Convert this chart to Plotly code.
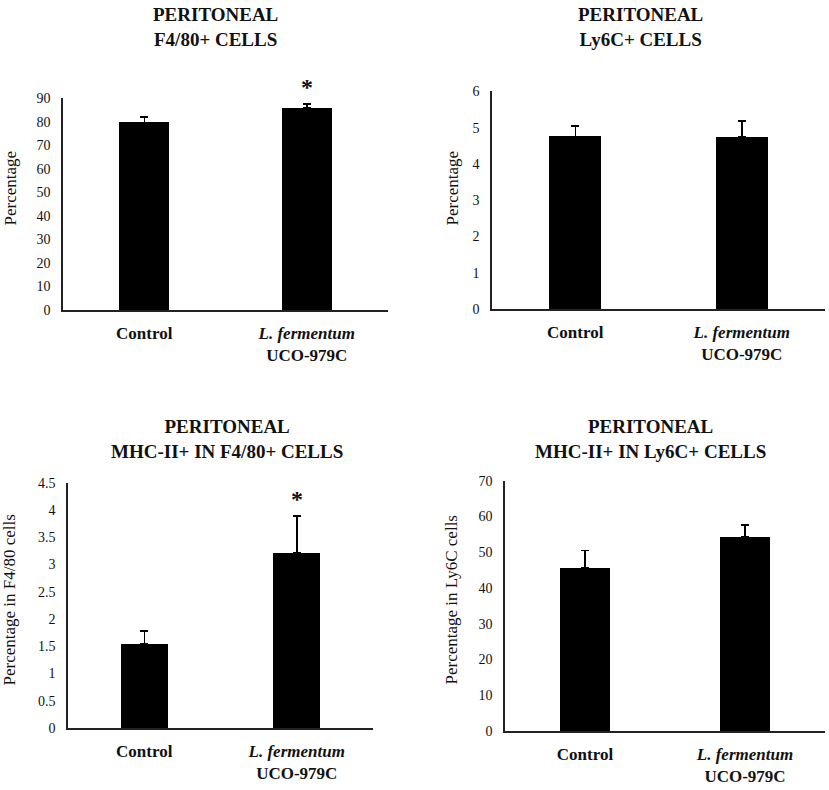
import plotly.graph_objects as go

# groups on the x axis
groups = ["Control", "L. fermentum UCO-979C"]
group_labels = ["<b>Control</b>", "<b><i>L. fermentum</i><br>UCO-979C</b>"]

# panel data (mean and upper error)
f480_mean = [79.6, 85.8]
f480_err = [2.5, 1.7]

ly6c_mean = [4.76, 4.74]
ly6c_err = [0.29, 0.45]

mhc_f480_mean = [1.55, 3.22]
mhc_f480_err = [0.23, 0.67]

mhc_ly6c_mean = [45.6, 54.4]
mhc_ly6c_err = [4.9, 3.2]

titles = ["<b>PERITONEAL<br>F4/80+ CELLS</b>",
          "<b>PERITONEAL<br>Ly6C+ CELLS</b>",
          "<b>PERITONEAL<br>MHC-II+ IN F4/80+ CELLS</b>",
          "<b>PERITONEAL<br>MHC-II+ IN Ly6C+ CELLS</b>"]
ytitles = ["Percentage", "Percentage", "Percentage in F4/80 cells", "Percentage in Ly6C cells"]
ymax = [90, 6, 4.5, 70]
ydtick = [10, 1, 0.5, 10]
significant = [[False, True], [False, False], [False, True], [False, False]]

W, H = 829, 790
FONT = "Times New Roman, Liberation Serif, serif"
INK = "#111111"

# plot areas in pixels: left, right, top, bottom
boxes = [(63, 388, 93, 309), (492, 825, 86, 308), (68, 373, 485, 735), (505, 825, 483, 738)]
title_pos = [(215, 20), (640, 20), (227, 440), (650, 440)]
ytitle_pos = [(10, 185), (452, 185), (10, 605), (452, 605)]

means = [f480_mean, ly6c_mean, mhc_f480_mean, mhc_ly6c_mean]
errs = [f480_err, ly6c_err, mhc_f480_err, mhc_ly6c_err]

fig = go.Figure()
annotations = []

for i in range(4):
    n = i + 1
    xa = "x" if n == 1 else "x%d" % n
    ya = "y" if n == 1 else "y%d" % n
    fig.add_trace(go.Bar(
        x=groups, y=means[i], xaxis=xa, yaxis=ya, width=0.31,
        marker=dict(color="black", line=dict(width=0)),
        error_y=dict(type="data", array=errs[i], arrayminus=[0, 0], symmetric=False,
                     color="black", thickness=1.5, width=4),
        showlegend=False, hoverinfo="skip"))

    l, r, t, b = boxes[i]
    xkey = "xaxis" if n == 1 else "xaxis%d" % n
    ykey = "yaxis" if n == 1 else "yaxis%d" % n
    fig.update_layout({
        xkey: dict(domain=[l / W, r / W], anchor=ya, type="category",
                   range=[-0.5, 1.5], tickvals=groups, ticktext=group_labels,
                   showline=True, linecolor="#222", linewidth=1.5, ticks="",
                   showgrid=False, ticklabelstandoff=7,
                   tickfont=dict(family=FONT, size=17, color=INK)),
        ykey: dict(domain=[1 - b / H, 1 - t / H], anchor=xa, range=[0, ymax[i]],
                   dtick=ydtick[i], showline=True, linecolor="#222", linewidth=1.5,
                   ticks="", showgrid=False, zeroline=False, ticklabelstandoff=8,
                   tickfont=dict(family=FONT, size=14, color=INK)),
    })

    tx, ty = title_pos[i]
    annotations.append(dict(text=titles[i], x=tx / W, y=1 - ty / H, xref="paper", yref="paper",
                            showarrow=False, xanchor="center", yanchor="middle",
                            font=dict(family=FONT, size=19, color=INK)))
    yx, yy = ytitle_pos[i]
    annotations.append(dict(text=ytitles[i], x=yx / W, y=1 - yy / H, xref="paper", yref="paper",
                            showarrow=False, textangle=-90, xanchor="center", yanchor="middle",
                            font=dict(family=FONT, size=17, color=INK)))
    for g, m, e, s in zip(groups, means[i], errs[i], significant[i]):
        if s:
            annotations.append(dict(text="<b>*</b>", x=g, y=m + e, xref=xa, yref=ya,
                                    showarrow=False, yanchor="middle", yshift=17,
                                    font=dict(family=FONT, size=24, color=INK)))

fig.update_layout(width=W, height=H, margin=dict(l=0, r=0, t=0, b=0),
                  plot_bgcolor="white", paper_bgcolor="white",
                  annotations=annotations, bargap=0)

fig.write_html("out.html", config={"displayModeBar": False},
               post_script="document.body.style.margin='0';")
